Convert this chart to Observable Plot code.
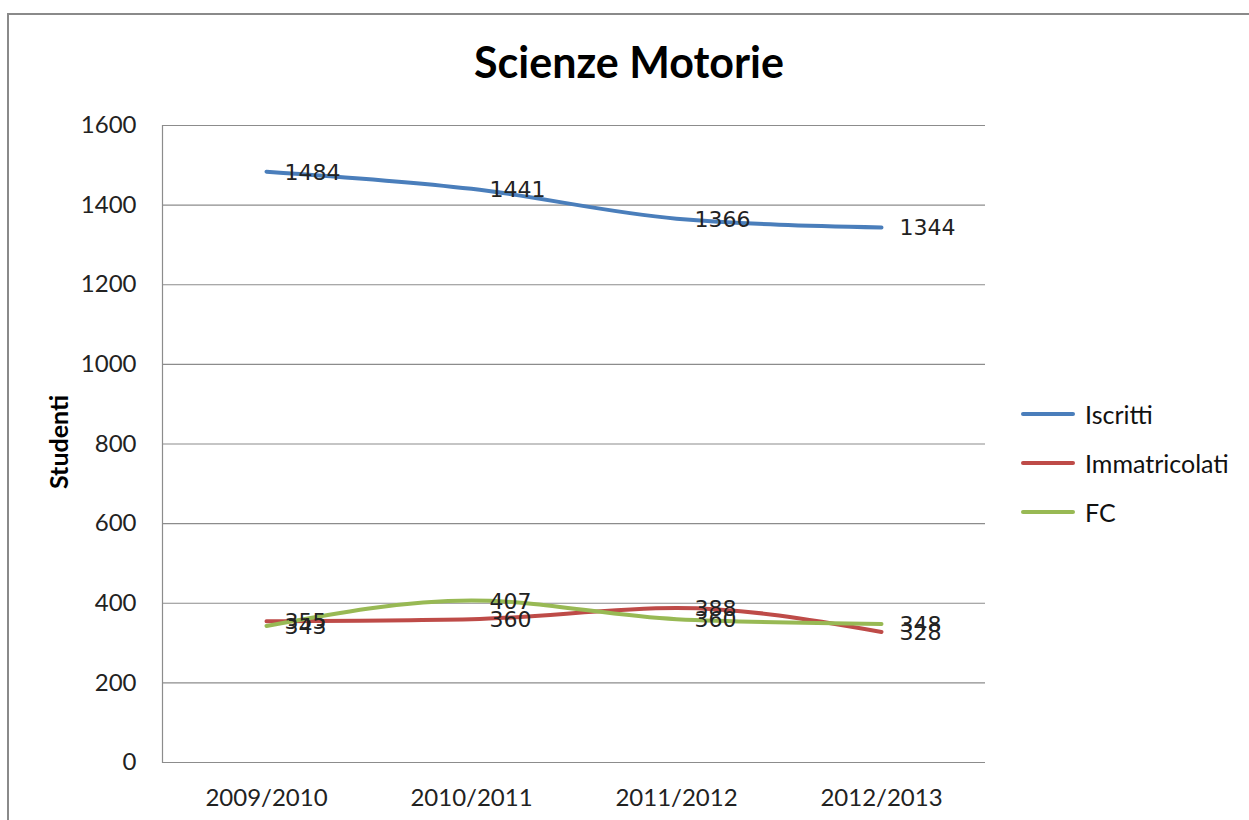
<!DOCTYPE html>
<html><head><meta charset="utf-8">
<script src="https://cdn.jsdelivr.net/npm/d3@7"></script>
<script src="https://cdn.jsdelivr.net/npm/@observablehq/plot@0.6"></script>
<style>
body{margin:0;background:#fff;}
#wrap{position:relative;width:1249px;height:820px;overflow:hidden;background:#fff;}
#border{position:absolute;left:7px;top:13px;width:1300px;height:900px;border:2px solid #8a8a8a;box-sizing:border-box;}
#title{position:absolute;left:0;width:1258px;top:36px;text-align:center;font:bold 43px Lato,sans-serif;color:#000;}
#ylab{position:absolute;left:58px;top:442px;transform:translate(-50%,-50%) rotate(-90deg);font:bold 25px Lato,sans-serif;color:#000;white-space:nowrap;}
#legend{position:absolute;left:1021px;top:389px;font:25px Lato,sans-serif;color:#111;}
.li{display:flex;align-items:center;height:49px;}
.li span.sw{display:inline-block;width:54px;height:4px;margin-right:10px;border-radius:2px;}
#chart{position:absolute;left:0;top:0;}
</style></head>
<body><div id="wrap"><div id="border"></div><div id="chart"></div><div id="title">Scienze Motorie</div><div id="ylab">Studenti</div><div id="legend"></div></div>
<script>
const years = ["2009/2010","2010/2011","2011/2012","2012/2013"];
const seriesNames = ["Iscritti","Immatricolati","FC"];
const iscritti = [1484,1441,1366,1344];
const immatricolati = [355,360,388,328];
const fc = [343,407,360,348];
const colors = ["#4a7ebb","#be4b48","#98b954"];
const yTicks = [0,200,400,600,800,1000,1200,1400,1600];

const values = [iscritti, immatricolati, fc];
const data = [];
seriesNames.forEach((s,si)=>years.forEach((y,i)=>data.push({series:s, year:y, value:values[si][i]})));

const chart = Plot.plot({
  width:1249, height:820,
  marginLeft:162, marginRight:264, marginTop:125, marginBottom:58,
  style:{background:"transparent"},
  x:{type:"point", domain:years, padding:0.5, label:null},
  y:{domain:[0,1600], ticks:yTicks, label:null},
  color:{domain:seriesNames, range:colors},
  marks:[
    Plot.ruleY(yTicks,{stroke:"#8c8c8c", strokeWidth:1.2}),
    Plot.frame({anchor:"left", stroke:"#8c8c8c", strokeWidth:1.2}),
    Plot.axisY({ticks:yTicks, tickFormat:d=>String(d), tickSize:0, tickPadding:26, fontSize:24, fontFamily:"Lato, sans-serif", fill:"#222", label:null}),
    Plot.axisX({tickSize:0, tickPadding:26, fontSize:24, fontFamily:"Lato, sans-serif", fill:"#222", label:null}),
    Plot.line(data,{x:"year", y:"value", z:"series", stroke:"series", strokeWidth:4, curve:"monotone-x"}),
    Plot.text(data,{x:"year", y:"value", text:d=>String(d.value), dx:18, dy:1, textAnchor:"start", fontSize:22, fontFamily:"DejaVu Sans, sans-serif", fill:"#222"})
  ]
});
document.getElementById("chart").appendChild(chart);

const leg = document.getElementById("legend");
seriesNames.forEach((s,i)=>{
  const d=document.createElement("div"); d.className="li";
  d.innerHTML=`<span class="sw" style="background:${colors[i]}"></span><span>${s}</span>`;
  leg.appendChild(d);
});
</script></body></html>
